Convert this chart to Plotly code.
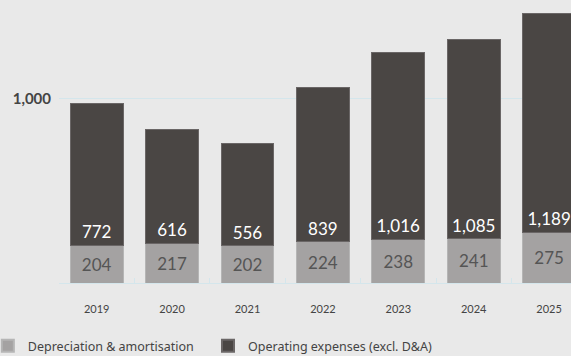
import plotly.graph_objects as go

years = ["2019", "2020", "2021", "2022", "2023", "2024", "2025"]
dep_amort = [204, 217, 202, 224, 238, 241, 275]
opex = [772, 616, 556, 839, 1016, 1085, 1189]
ytick_vals = [1000]
ytick_text = ["1,000"]

GRAY = "#a4a2a2"
DARK = "#4a4644"
BG = "#e9e9e9"
TXT = "#444444"
GRID = "#d4e6ec"

fig = go.Figure()
fig.add_trace(go.Bar(
    x=years, y=dep_amort, name="Depreciation & amortisation",
    marker=dict(color=GRAY, line=dict(color="#b5b5b5", width=1)),
    text=[f"{v:,}" for v in dep_amort], textposition="inside",
    insidetextanchor="middle", textangle=0,
    textfont=dict(color="#555555", size=17, family="Lato"),
    width=0.7, legend="legend",
))
fig.add_trace(go.Bar(
    x=years, y=opex, name="Operating expenses (excl. D&A)",
    marker=dict(color=DARK, line=dict(color="#6a6666", width=1)),
    text=[f"{v:,}" for v in opex], textposition="inside",
    insidetextanchor="start", textangle=0,
    textfont=dict(color="#ffffff", size=17, family="Lato"),
    width=0.7, legend="legend2",
))

leg_common = dict(
    orientation="h", xanchor="left", y=-0.223, yanchor="middle",
    font=dict(family="Noto Sans", size=12.5, color=TXT),
    bgcolor="rgba(0,0,0,0)", itemsizing="constant",
)

fig.update_layout(
    barmode="stack",
    width=571, height=356,
    margin=dict(l=59, r=0, t=0, b=73, autoexpand=False),
    paper_bgcolor=BG, plot_bgcolor=BG,
    font=dict(family="Lato", color=TXT),
    uniformtext=dict(mode=False),
    showlegend=True,
    legend=dict(x=-0.139, **leg_common),
    legend2=dict(x=0.291, **leg_common),
    xaxis=dict(
        range=[-0.5, 6.29], showgrid=False, zeroline=False,
        showline=False, ticks="inside", tickson="boundaries",
        tickcolor=GRID, ticklen=5,
        tickfont=dict(family="Lato", size=11, color=TXT),
        ticklabelstandoff=18,
    ),
    yaxis=dict(
        range=[0, 1538], tickvals=ytick_vals, ticktext=ytick_text,
        showgrid=True, gridcolor=GRID, gridwidth=1,
        zeroline=True, zerolinecolor=GRID, zerolinewidth=1,
        showline=False, ticks="",
        tickfont=dict(family="Lato", size=15, color=TXT, weight="bold"),
        ticklabelstandoff=7,
    ),
)

fig.write_html("out.html")
